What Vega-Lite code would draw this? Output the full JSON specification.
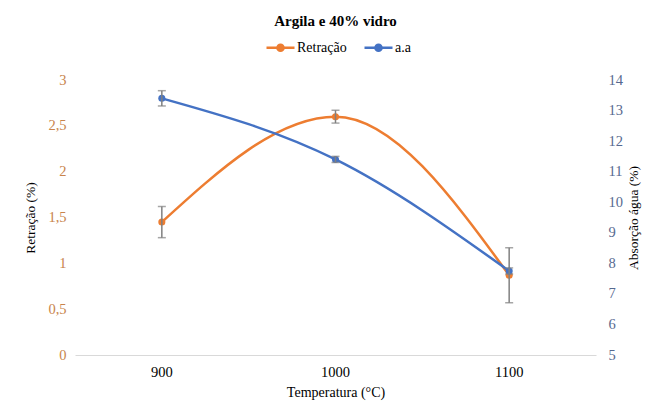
{
  "$schema": "https://vega.github.io/schema/vega-lite/v6.json",
  "width": 521,
  "height": 275,
  "autosize": {"type": "none"},
  "padding": {"left": 75, "top": 80, "right": 53, "bottom": 54},
  "background": "white",
  "config": {"view": {"stroke": null}, "font": "'Liberation Serif', 'Times New Roman', serif"},
  "title": {"text": "Argila e 40% vidro", "fontSize": 15, "fontWeight": "bold", "font": "'Liberation Serif', 'Times New Roman', serif", "color": "#000000", "offset": 3, "anchor": "middle"},
  "data": {"values": [
    {"temp": "900", "ret": 1.45, "ret_err": 0.17, "aa": 13.4, "aa_err": 0.25},
    {"temp": "1000", "ret": 2.6, "ret_err": 0.07, "aa": 11.4, "aa_err": 0.1},
    {"temp": "1100", "ret": 0.87, "ret_err": 0.3, "aa": 7.75, "aa_err": 0.1}
  ]},
  "encoding": {
    "x": {"field": "temp", "type": "ordinal", "sort": null, "title": "Temperatura (°C)",
      "axis": {"labelAngle": 0, "domainColor": "#D9D9D9", "ticks": false, "grid": false, "labelPadding": 10, "labelFontSize": 14.5, "labelFont": "'Liberation Serif', 'Times New Roman', serif", "labelColor": "#000000", "titleFont": "'Liberation Serif', 'Times New Roman', serif", "titleFontSize": 14, "titleFontWeight": "normal", "titleColor": "#000000", "titlePadding": 7}}
  },
  "layer": [
    {
      "encoding": {
        "y": {"field": "ret", "type": "quantitative", "scale": {"domain": [0, 3]}, "title": "Retração (%)",
          "axis": {"orient": "left", "grid": false, "domain": false, "ticks": false, "values": [0, 0.5, 1, 1.5, 2, 2.5, 3], "labelExpr": "replace(format(datum.value,'.1~f'),'.',',')", "labelColor": "#C8844C", "labelFont": "'Liberation Serif', 'Times New Roman', serif", "labelFontSize": 14.5, "labelPadding": 9, "titleFont": "'Liberation Serif', 'Times New Roman', serif", "titleFontSize": 13.5, "titleFontWeight": "normal", "titleColor": "#000000", "titlePadding": 10}}
      },
      "layer": [
        {"mark": {"type": "line", "interpolate": "monotone", "strokeWidth": 2.5},
          "encoding": {"color": {"datum": "Retração", "type": "nominal", "scale": {"domain": ["Retração", "a.a"], "range": ["#ED7D31", "#4472C4"]},
            "legend": {"orient": "none", "legendX": 190, "legendY": -48, "direction": "horizontal", "title": null,
              "symbolType": "M-1,0L1,0M0.22,0A0.22,0.22,0,1,1,-0.22,0A0.22,0.22,0,1,1,0.22,0Z", "symbolSize": 784, "symbolStrokeWidth": 2.5,
              "labelFont": "'Liberation Serif', 'Times New Roman', serif", "labelFontSize": 14, "labelColor": "#000000", "columnPadding": 12, "labelOffset": 1,
              "encode": {"symbols": {"update": {"fill": {"scale": "color", "field": "value"}, "stroke": {"scale": "color", "field": "value"}, "fillOpacity": {"value": 1}}}}}}}},
        {"mark": {"type": "point", "filled": true, "size": 50, "opacity": 1},
          "encoding": {"color": {"datum": "Retração", "type": "nominal"}}},
        {"mark": {"type": "errorbar", "ticks": {"size": 8}, "color": "#808080", "thickness": 1.5},
          "encoding": {"yError": {"field": "ret_err"}}}
      ]
    },
    {
      "encoding": {
        "y": {"field": "aa", "type": "quantitative", "scale": {"domain": [5, 14]}, "title": "Absorção água (%)",
          "axis": {"orient": "right", "grid": false, "domain": false, "ticks": false, "values": [5, 6, 7, 8, 9, 10, 11, 12, 13, 14], "labelColor": "#56698F", "labelFont": "'Liberation Serif', 'Times New Roman', serif", "labelFontSize": 14.5, "labelPadding": 12, "titleFont": "'Liberation Serif', 'Times New Roman', serif", "titleFontSize": 13.5, "titleFontWeight": "normal", "titleColor": "#000000", "titlePadding": 18, "titleAngle": 270}}
      },
      "layer": [
        {"mark": {"type": "line", "interpolate": "monotone", "strokeWidth": 2.5},
          "encoding": {"color": {"datum": "a.a", "type": "nominal"}}},
        {"mark": {"type": "point", "filled": true, "size": 50, "opacity": 1},
          "encoding": {"color": {"datum": "a.a", "type": "nominal"}}},
        {"mark": {"type": "errorbar", "ticks": {"size": 8}, "color": "#808080", "thickness": 1.5},
          "encoding": {"yError": {"field": "aa_err"}}}
      ]
    }
  ],
  "resolve": {"scale": {"y": "independent"}}
}
